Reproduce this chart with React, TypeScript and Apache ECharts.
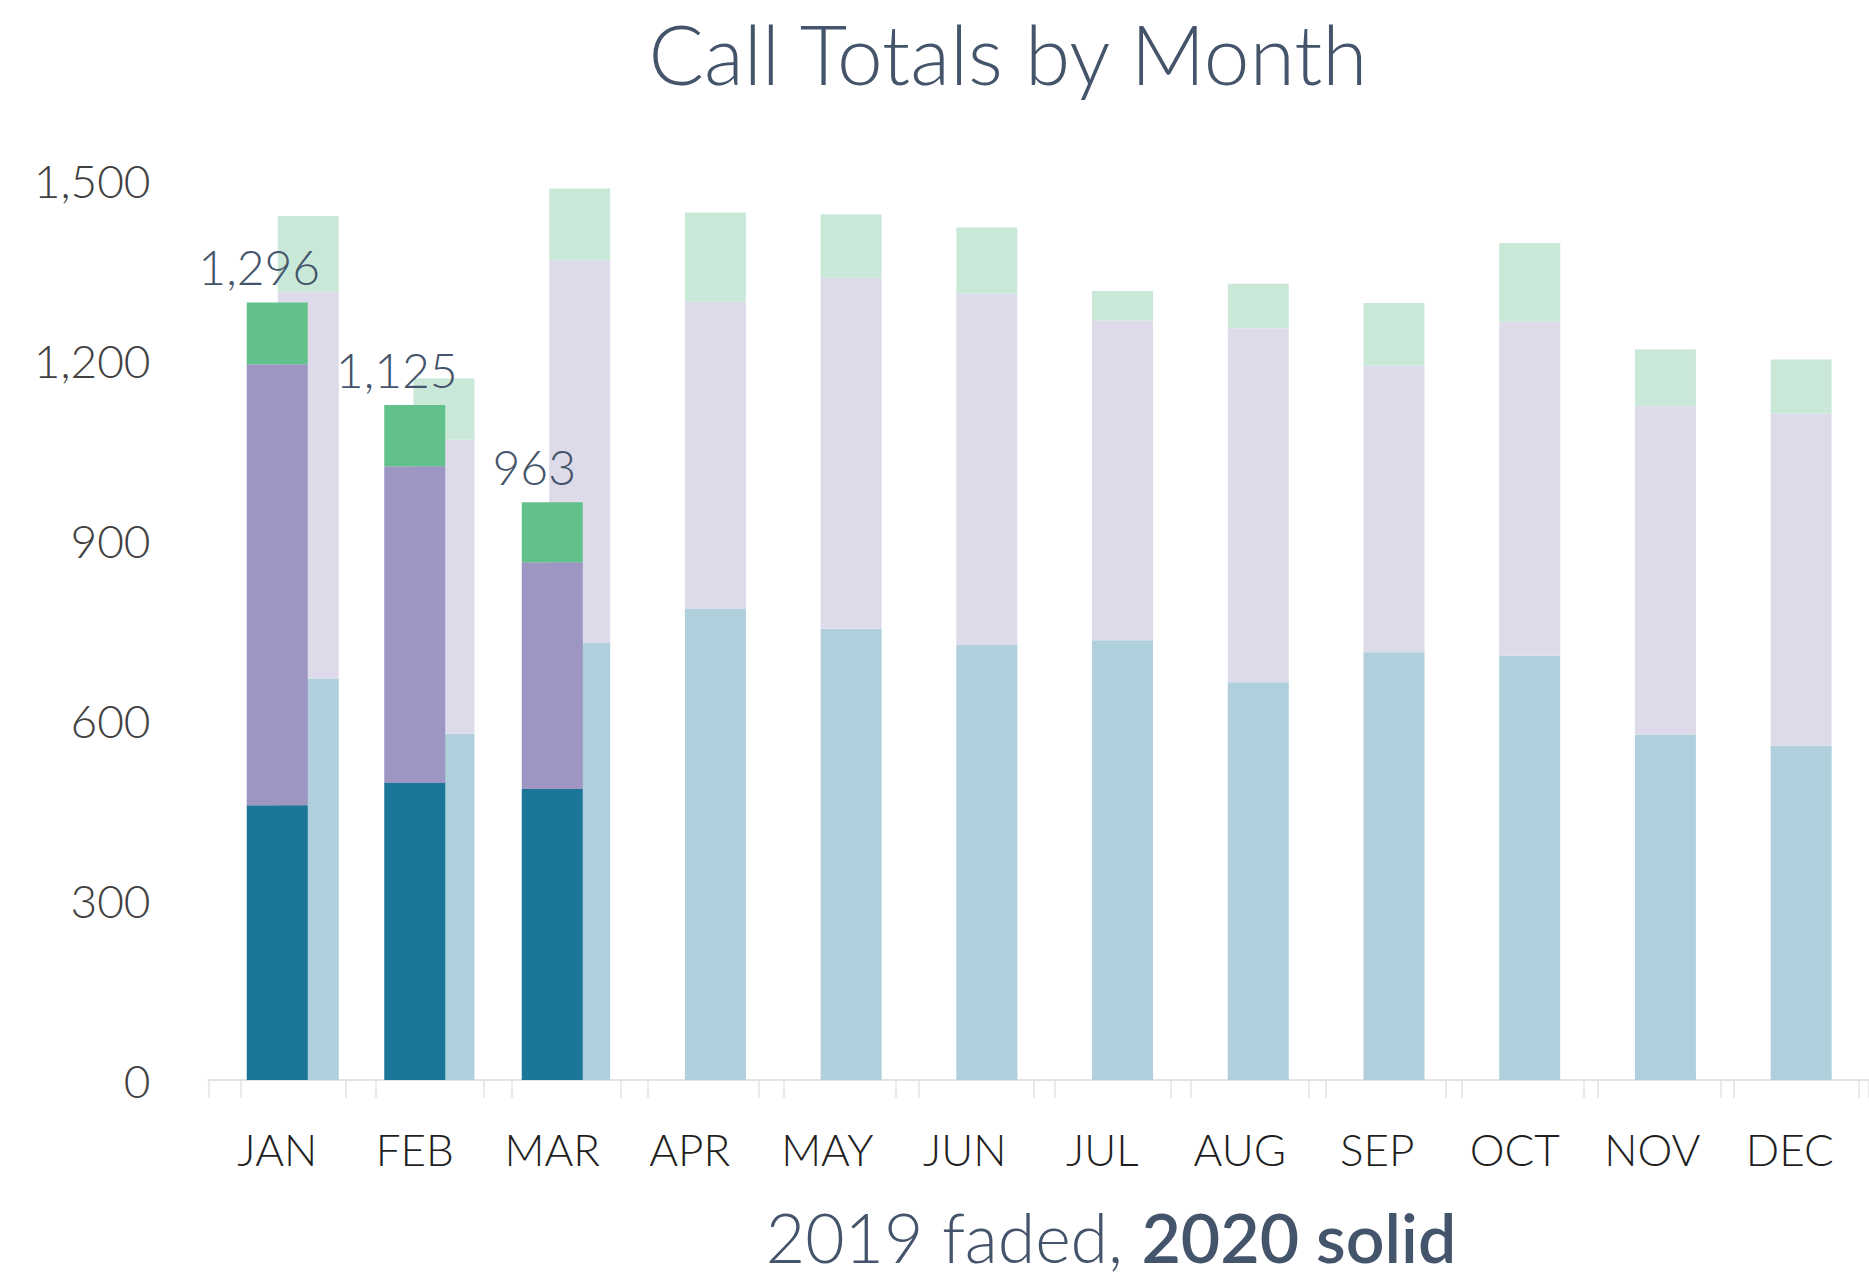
import React, { useEffect, useRef } from "react";
import * as echarts from "echarts";

const months = ["JAN", "FEB", "MAR", "APR", "MAY", "JUN", "JUL", "AUG", "SEP", "OCT", "NOV", "DEC"];

// 2020 (solid) – stacked segments, Jan–Mar only
const teal2020 = [458, 495, 485];
const purple2020 = [735, 528, 378];
const green2020 = [103, 102, 100];

// 2019 (faded) – stacked segments
const teal2019 = [669, 577, 729, 785, 752, 726, 733, 663, 713, 707, 576, 557];
const purple2019 = [645, 490, 637, 512, 585, 585, 533, 590, 478, 557, 547, 554];
const green2019 = [126, 102, 120, 149, 106, 110, 49, 74, 104, 131, 95, 90];

const yMin = 0;
const yMax = 1500;
const yStep = 300;

const FONT = "Lato, 'Open Sans', 'Noto Sans', sans-serif";

export default function App() {
  const ref = useRef<HTMLDivElement>(null);

  useEffect(() => {
    document.body.style.margin = "0";
    if (!ref.current) return;
    const chart = echarts.init(ref.current, null, { renderer: "svg" });

    const totals2020 = teal2020.map((v, i) => v + purple2020[i] + green2020[i]);
    const fmt = (v: number) => v.toLocaleString("en-US");

    const axisLineStyle = { color: "#e3e3e3", width: 2 };
    const tickStyle = { color: "#e3e3e3", width: 1.5 };

    const option: any = {
      animation: false,
      backgroundColor: "#ffffff",
      grid: [
        { left: 208.5, width: 1650, top: 180, height: 900 },
        { left: 240.4, width: 1632.6, top: 180, height: 900 },
      ],
      xAxis: [
        {
          type: "category",
          gridIndex: 0,
          data: months,
          axisLine: { show: true, lineStyle: axisLineStyle },
          axisTick: { show: true, length: 18, lineStyle: tickStyle },
          axisLabel: {
            fontSize: 44,
            fontFamily: FONT,
            fontWeight: 300,
            color: "#1f1f1f",
            margin: 47,
          },
        },
        {
          type: "category",
          gridIndex: 1,
          data: months,
          axisLine: { show: true, lineStyle: axisLineStyle },
          axisTick: { show: true, length: 18, lineStyle: tickStyle },
          axisLabel: { show: false },
        },
      ],
      yAxis: [
        {
          type: "value",
          gridIndex: 0,
          min: yMin,
          max: yMax,
          interval: yStep,
          splitLine: { show: false },
          axisLine: { show: false },
          axisTick: { show: false },
          axisLabel: {
            fontSize: 46,
            fontFamily: FONT,
            fontWeight: 300,
            color: "#404040",
            margin: 58,
            formatter: (v: number) => fmt(v),
          },
        },
        {
          type: "value",
          gridIndex: 1,
          min: yMin,
          max: yMax,
          interval: yStep,
          show: false,
          splitLine: { show: false },
        },
      ],
      series: [
        {
          name: "2019 A",
          type: "bar",
          xAxisIndex: 1,
          yAxisIndex: 1,
          stack: "y2019",
          barWidth: 61,
          z: 2,
          itemStyle: { color: "#b0cfdc" },
          data: teal2019,
        },
        {
          name: "2019 B",
          type: "bar",
          xAxisIndex: 1,
          yAxisIndex: 1,
          stack: "y2019",
          barWidth: 61,
          z: 2,
          itemStyle: { color: "#dddbe9" },
          data: purple2019,
        },
        {
          name: "2019 C",
          type: "bar",
          xAxisIndex: 1,
          yAxisIndex: 1,
          stack: "y2019",
          barWidth: 61,
          z: 2,
          itemStyle: { color: "#cae8d8" },
          data: green2019,
        },
        {
          name: "2020 A",
          type: "bar",
          xAxisIndex: 0,
          yAxisIndex: 0,
          stack: "y2020",
          barWidth: 61,
          z: 3,
          itemStyle: { color: "#1b7698" },
          data: teal2020,
        },
        {
          name: "2020 B",
          type: "bar",
          xAxisIndex: 0,
          yAxisIndex: 0,
          stack: "y2020",
          barWidth: 61,
          z: 3,
          itemStyle: { color: "#9d96c2" },
          data: purple2020,
        },
        {
          name: "2020 C",
          type: "bar",
          xAxisIndex: 0,
          yAxisIndex: 0,
          stack: "y2020",
          barWidth: 61,
          z: 3,
          itemStyle: { color: "#62c08a" },
          data: green2020,
          label: {
            show: true,
            position: "top",
            distance: 12,
            offset: [-18, 0],
            fontSize: 48,
            fontFamily: FONT,
            fontWeight: 300,
            color: "#44546a",
            formatter: (p: any) => fmt(totals2020[p.dataIndex]),
          },
        },
      ],
      graphic: [
        {
          type: "text",
          x: 1008,
          y: 53,
          style: {
            text: "Call Totals by Month",
            fontSize: 82,
            fontFamily: FONT,
            fontWeight: 300,
            fill: "#44546a",
            textAlign: "center",
            textVerticalAlign: "middle",
          },
        },
        {
          type: "text",
          x: 1111,
          y: 1236,
          style: {
            text: "{a|2019 faded, }{b|2020 solid}",
            textAlign: "center",
            textVerticalAlign: "middle",
            rich: {
              a: {
                fontSize: 68,
                fontFamily: FONT,
                fontWeight: 300,
                fill: "#44546a",
                color: "#44546a",
              },
              b: {
                fontSize: 68,
                fontFamily: FONT,
                fontWeight: 600,
                fill: "#44546a",
                color: "#44546a",
              },
            },
          },
        },
      ],
    };

    chart.setOption(option);
    return () => chart.dispose();
  }, []);

  return <div ref={ref} style={{ width: 1869, height: 1283 }} />;
}
